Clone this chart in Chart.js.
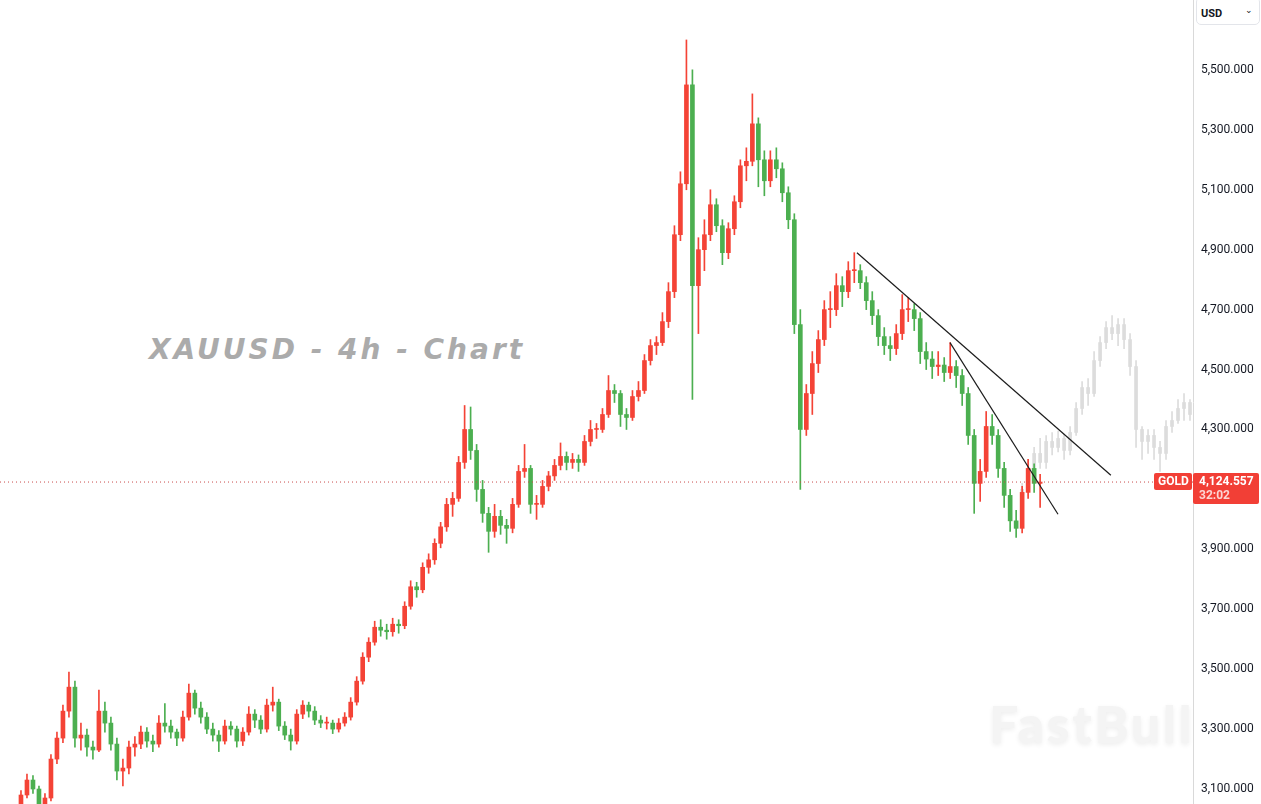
<!DOCTYPE html>
<html>
<head>
<meta charset="utf-8">
<script src="https://cdn.jsdelivr.net/npm/chart.js@4.4.0/dist/chart.umd.min.js"></script>
<style>
html,body{margin:0;padding:0;background:#fff;overflow:hidden;}
#wrap{position:relative;width:1261px;height:804px;}
#title{position:absolute;left:149px;top:336px;font-family:"DejaVu Sans",sans-serif;font-style:italic;font-weight:bold;font-size:28px;line-height:28px;letter-spacing:3px;color:#ababab;white-space:nowrap;}
#wm{position:absolute;left:989px;top:692px;font-family:Lato,sans-serif;font-weight:900;font-size:52px;line-height:62px;letter-spacing:2.5px;color:#f4f4f4;text-shadow:0 2px 5px rgba(0,0,0,0.07);white-space:nowrap;}
#usd{position:absolute;left:1196px;top:-3px;width:64px;height:28px;box-sizing:border-box;border:1px solid #e3e5ea;border-radius:5px;background:#fff;font-family:Roboto,sans-serif;font-weight:bold;font-size:11px;color:#131722;}
#usd span.t{position:absolute;left:4px;top:9px;}
#usd span.c{position:absolute;right:6px;top:7px;font-size:9px;font-weight:normal;}
canvas{position:absolute;left:0;top:0;}
</style>
</head>
<body>
<div id="wrap">
  <div id="title">XAUUSD - 4h - Chart</div>
  <div id="wm">FastBull</div>
  <canvas id="c" width="1261" height="804"></canvas>
  <div id="usd"><span class="t">USD</span><span class="c">&#8964;</span></div>
</div>
<script>
// ---------- DATA ----------
const startSlot = 3; // slot index of first candle
const openPrices = [
 3050,3080,3130,3100,3040,3070,3200,3270,3360,3440,
 3270,3280,3240,3230,3360,3320,3250,3160,3170,3240,
 3250,3290,3260,3250,3320,3310,3290,3270,3340,3420,
 3370,3340,3300,3280,3260,3310,3300,3260,3290,3350,
 3330,3300,3380,3390,3310,3280,3260,3350,3380,3360,
 3330,3320,3320,3300,3320,3340,3390,3460,3540,3590,
 3640,3630,3625,3650,3645,3710,3775,3765,3840,3865,
 3920,3975,4050,4070,4190,4300,4230,4100,4020,3960,
 4010,3980,3970,4050,4160,4170,4050,4050,4110,4145,
 4180,4210,4190,4200,4190,4260,4300,4300,4350,4430,
 4420,4350,4340,4410,4430,4530,4580,4590,4660,4760,
 4950,5120,5450,4780,4900,4950,5050,4980,4890,4970,
 5060,5180,5195,5320,5200,5130,5200,5170,5090,5000,
 4650,4300,4420,4520,4600,4700,4700,4780,4760,4830,
 4830,4790,4730,4680,4610,4580,4570,4620,4700,4700,
 4670,4560,4535,4510,4515,4490,4510,4480,4420,4280,
 4120,4160,4310,4280,4170,4080,3995,3970,4090,4170,
 4120
];
const highPrices = [
 3095,3150,3145,3110,3085,3215,3290,3380,3490,3460,
 3320,3300,3260,3430,3390,3340,3270,3200,3260,3275,
 3310,3305,3280,3345,3385,3330,3300,3360,3450,3430,
 3390,3355,3320,3295,3330,3325,3310,3305,3375,3365,
 3345,3400,3440,3400,3325,3300,3365,3395,3390,3375,
 3345,3340,3330,3335,3355,3405,3475,3555,3605,3660,
 3665,3650,3670,3665,3725,3795,3790,3855,3885,3935,
 3990,4070,4090,4210,4380,4375,4250,4130,4040,4050,
 4030,4000,4070,4180,4250,4180,4080,4130,4160,4200,
 4255,4225,4220,4215,4280,4330,4320,4370,4480,4450,
 4430,4370,4430,4460,4550,4600,4610,4690,4790,4980,
 5160,5600,5500,4940,5000,5100,5070,5000,4990,5080,
 5200,5240,5420,5340,5230,5230,5240,5190,5110,5020,
 4700,4450,4560,4630,4730,4760,4820,4810,4860,4890,
 4850,4810,4760,4700,4640,4610,4650,4750,4740,4720,
 4690,4590,4560,4560,4540,4590,4530,4500,4440,4300,
 4200,4360,4350,4300,4190,4100,4030,4110,4200,4185,
 4150
];
const lowPrices = [
 3040,3070,3085,3020,3030,3060,3185,3255,3340,3240,
 3230,3210,3200,3225,3290,3230,3130,3110,3150,3210,
 3235,3240,3225,3240,3290,3270,3245,3260,3330,3350,
 3320,3285,3260,3225,3250,3280,3240,3245,3280,3305,
 3285,3290,3360,3295,3265,3230,3250,3335,3340,3315,
 3305,3300,3285,3290,3310,3330,3380,3450,3525,3580,
 3610,3600,3610,3620,3635,3700,3740,3755,3820,3850,
 3905,3960,4010,4060,4170,4200,4060,3990,3890,3940,
 3950,3920,3955,4040,4140,4020,4000,4040,4095,4130,
 4165,4165,4170,4160,4180,4245,4270,4290,4340,4390,
 4310,4300,4330,4395,4420,4515,4550,4580,4640,4740,
 4930,5100,4400,4620,4830,4930,4960,4850,4870,4950,
 5040,5130,5180,5110,5080,5110,5140,5060,4970,4620,
 4100,4280,4350,4490,4580,4640,4680,4710,4740,4790,
 4770,4700,4650,4580,4550,4530,4550,4600,4660,4630,
 4520,4500,4470,4480,4460,4470,4440,4380,4250,4020,
 4060,4140,4250,4140,4040,3960,3940,3955,4070,4090,
 4040
];
const closePrices = [
 3080,3130,3100,3040,3070,3200,3270,3360,3440,3270,
 3280,3240,3230,3360,3320,3250,3160,3170,3240,3250,
 3290,3260,3250,3320,3310,3290,3270,3340,3420,3370,
 3340,3300,3280,3260,3310,3300,3260,3290,3350,3330,
 3300,3380,3390,3310,3280,3260,3350,3380,3360,3330,
 3320,3320,3300,3320,3340,3390,3460,3540,3590,3640,
 3630,3625,3650,3645,3710,3775,3765,3840,3865,3920,
 3975,4050,4070,4190,4300,4230,4100,4020,3960,4010,
 3980,3970,4050,4160,4170,4050,4050,4110,4145,4180,
 4210,4190,4200,4190,4260,4300,4300,4350,4430,4420,
 4350,4340,4410,4430,4530,4580,4590,4660,4760,4950,
 5120,5450,4780,4900,4950,5050,4980,4890,4970,5060,
 5180,5195,5320,5200,5130,5200,5170,5090,5000,4650,
 4300,4420,4520,4600,4700,4700,4780,4760,4830,4830,
 4790,4730,4680,4610,4580,4570,4620,4700,4700,4670,
 4560,4535,4510,4515,4490,4510,4480,4420,4280,4120,
 4160,4310,4280,4170,4080,3995,3970,4090,4170,4120,
 4124.557
];
// projected (grey) candles
const projStartSlot = 170;
const projOpen  = [4040,4100,4150,4220,4190,4260,4240,4270,4230,4290,4370,4440,4420,4530,4590,4640,4620,4650,4600,4510,4300,4260,4280,4240,4220,4310,4330,4370,4390];
const projHigh  = [4120,4200,4240,4270,4280,4290,4295,4285,4310,4390,4460,4470,4560,4610,4660,4680,4670,4670,4620,4530,4310,4300,4300,4260,4330,4360,4400,4420,4400];
const projLow   = [3990,4080,4130,4170,4170,4215,4225,4200,4215,4280,4350,4380,4410,4510,4570,4600,4580,4570,4480,4240,4200,4220,4200,4160,4200,4290,4320,4330,4330];
const projClose = [4100,4150,4220,4190,4260,4240,4270,4230,4290,4370,4440,4420,4530,4590,4640,4620,4650,4600,4510,4300,4260,4280,4240,4220,4310,4330,4370,4390,4350];

const tickValues = [3100,3300,3500,3700,3900,4300,4500,4700,4900,5100,5300,5500];
const tickLabels = ['3,100.000','3,300.000','3,500.000','3,700.000','3,900.000','4,300.000','4,500.000','4,700.000','4,900.000','5,100.000','5,300.000','5,500.000'];

const lastPrice = 4124.557;
const lastPriceLabel = '4,124.557';
const countdownLabel = '32:02';
const symbolLabel = 'GOLD';

const trendLine1 = [{x:142.45, y:4890}, {x:184.8, y:4147}];
const trendLine2 = [{x:157.97, y:4590}, {x:175.98, y:4017}];

const xRange = [-0.5, 198.5];
const yRange = [3050, 5733.33];

// ---------- COLORS (red = rising, green = falling) ----------
const UP = '#f44336', DOWN = '#4caf50', GREY = '#dcdcdc', TAG = '#f23f36';

const wickData = openPrices.map((o,k)=>({x:startSlot+k, y:[lowPrices[k], highPrices[k]]}));
const bodyData = openPrices.map((o,k)=>({x:startSlot+k, y:[o, closePrices[k]]}));
const projWick = projOpen.map((o,k)=>({x:projStartSlot+k, y:[projLow[k], projHigh[k]]}));
const projBody = projOpen.map((o,k)=>({x:projStartSlot+k, y:[o, projClose[k]]}));
const candleColor = ctx => (closePrices[ctx.dataIndex] >= openPrices[ctx.dataIndex] ? UP : DOWN);

const priceTagPlugin = {
  id: 'priceTag',
  afterDraw(chart) {
    const {ctx, scales:{y}} = chart;
    const py = Math.round(y.getPixelForValue(lastPrice));
    ctx.save();
    ctx.fillStyle = TAG;
    ctx.beginPath(); ctx.roundRect(1193, py-9, 66, 31, 2); ctx.fill();
    ctx.beginPath(); ctx.roundRect(1154, py-9, 38, 17, 2); ctx.fill();
    ctx.fillStyle = '#ffffff';
    ctx.textBaseline = 'alphabetic';
    ctx.textAlign = 'left';
    ctx.font = 'bold 12px Roboto';
    ctx.fillText(symbolLabel, 1158, py+3);
    ctx.fillText(lastPriceLabel, 1199, py+3);
    ctx.fillStyle = 'rgba(255,255,255,0.78)';
    ctx.fillText(countdownLabel, 1199, py+17);
    ctx.restore();
  }
};

new Chart(document.getElementById('c'), {
  data: {
    datasets: [
      {type:'line', data: trendLine1, borderColor:'#1c1c1c', borderWidth:1.2, pointRadius:0, tension:0},
      {type:'line', data: trendLine2, borderColor:'#1c1c1c', borderWidth:1.2, pointRadius:0, tension:0},
      {type:'line', data: [{x:xRange[0], y:lastPrice},{x:xRange[1], y:lastPrice}], borderColor:'#c94a4a', borderWidth:1, borderDash:[1,3], pointRadius:0},
      {type:'bar', data: bodyData, backgroundColor: candleColor, barThickness: 4, grouped:false, minBarLength:1, borderWidth:0},
      {type:'bar', data: wickData, backgroundColor: candleColor, barThickness: 1, grouped:false, borderWidth:0},
      {type:'bar', data: projBody, backgroundColor: GREY, barThickness: 3, grouped:false, minBarLength:1, borderWidth:0},
      {type:'bar', data: projWick, backgroundColor: GREY, barThickness: 1, grouped:false, borderWidth:0}
    ]
  },
  options: {
    responsive:false, animation:false, devicePixelRatio:1,
    layout:{padding:0},
    plugins:{legend:{display:false}, tooltip:{enabled:false}, title:{display:false}},
    scales:{
      x:{type:'linear', display:false, min:xRange[0], max:xRange[1], offset:false},
      y:{type:'linear', position:'right', min:yRange[0], max:yRange[1],
         afterFit: s => { s.width = 68; s.paddingTop = 0; s.paddingBottom = 0; },
         afterBuildTicks: s => { s.ticks = tickValues.map(v=>({value:v})); },
         grid:{display:false, drawTicks:false},
         border:{display:true, color:'#d9d9d9', width:1},
         ticks:{padding:8, color:'#131722', font:{family:'Roboto', size:12},
                callback: v => tickLabels[tickValues.indexOf(v)] }
      }
    }
  },
  plugins:[priceTagPlugin]
});
</script>
</body>
</html>
